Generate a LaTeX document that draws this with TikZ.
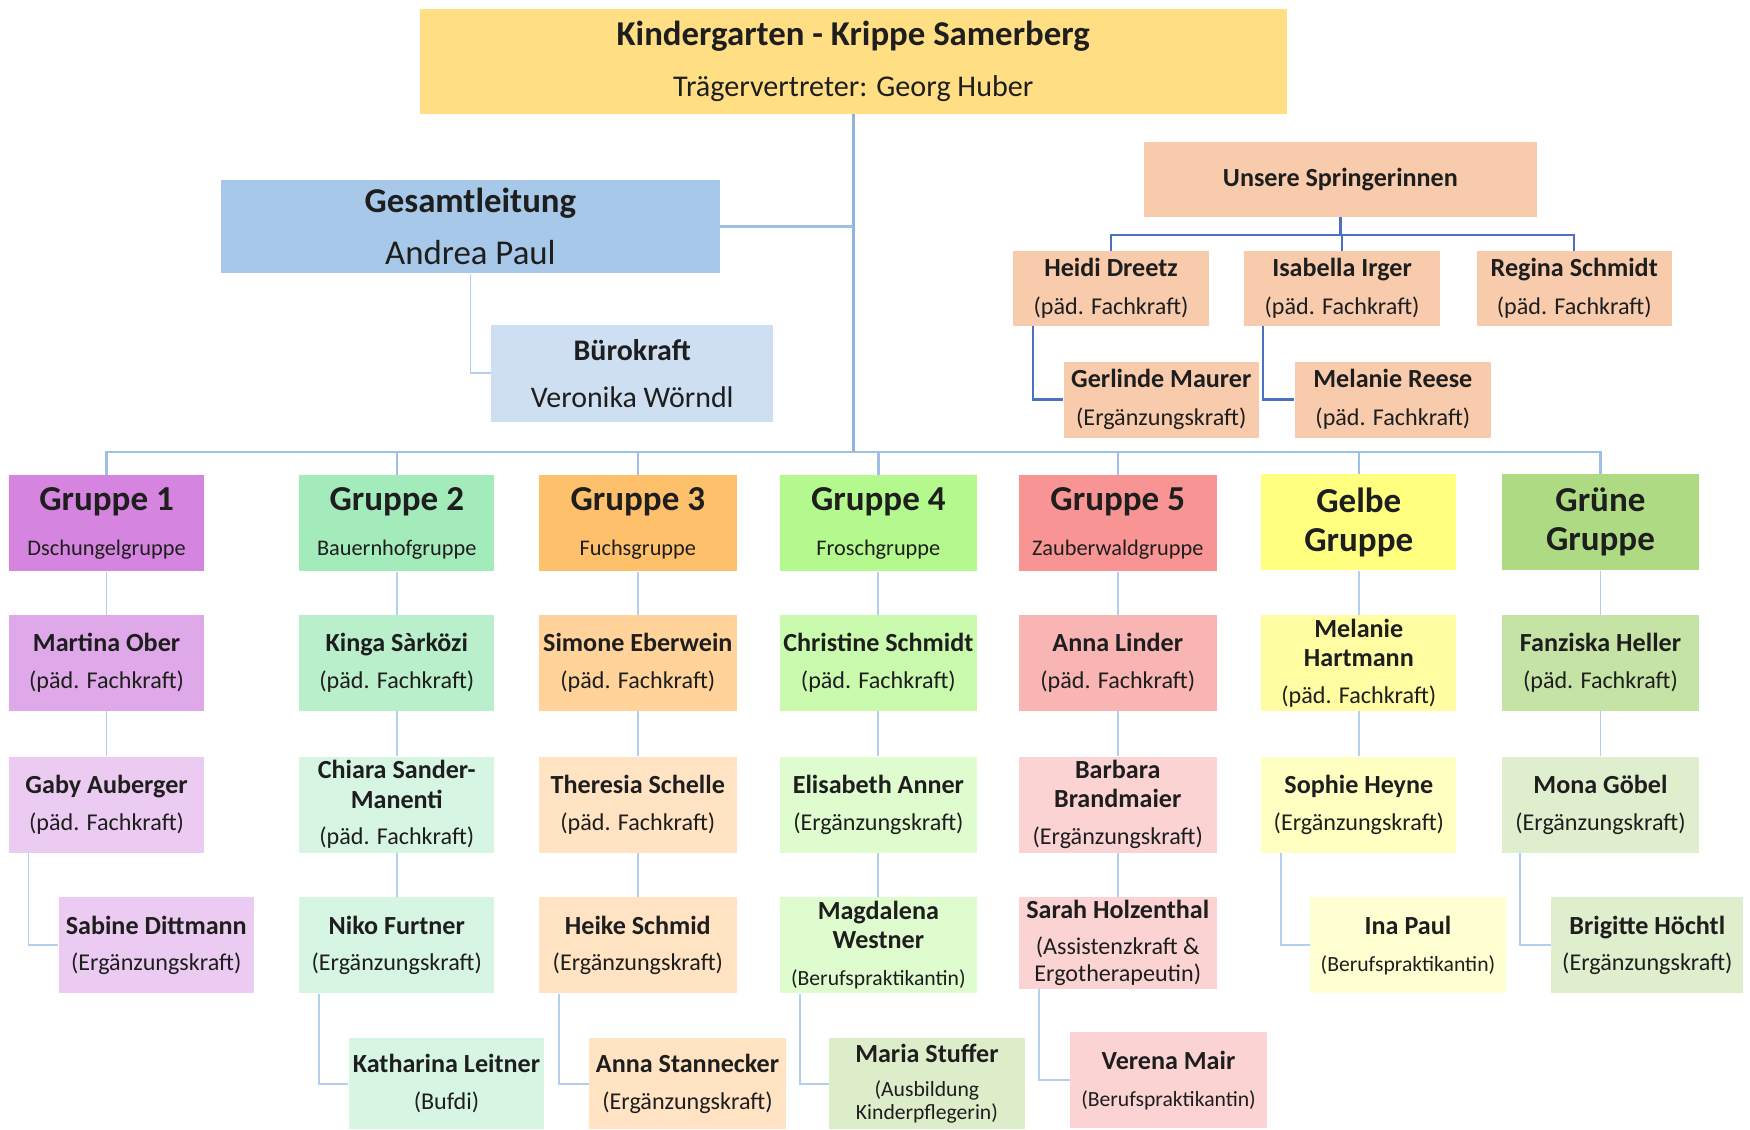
\documentclass[tikz,border=0pt]{standalone}
\usepackage{fontspec}
\setmainfont{Carlito}
\usetikzlibrary{calc}
\definecolor{txt}{HTML}{1E1E1E}
\definecolor{ctop}{HTML}{FFDE84}
\definecolor{cgl}{HTML}{A7C8E8}
\definecolor{cbk}{HTML}{CDDFF1}
\definecolor{csp}{HTML}{F8CBAD}
\definecolor{ga}{HTML}{D585E0}\definecolor{gb}{HTML}{DFA8E8}\definecolor{gc}{HTML}{ECCBF2}
\definecolor{ha}{HTML}{A4EBBC}\definecolor{hb}{HTML}{B9EFCB}\definecolor{hc}{HTML}{D7F5E3}
\definecolor{ia}{HTML}{FFC06C}\definecolor{ib}{HTML}{FFD399}\definecolor{ic}{HTML}{FFE3C2}
\definecolor{ja}{HTML}{B3F98E}\definecolor{jb}{HTML}{C9FAAE}\definecolor{jc}{HTML}{DEFCCD}\definecolor{jd}{HTML}{DDEDC9}
\definecolor{ka}{HTML}{F99494}\definecolor{kb}{HTML}{F9B4B4}\definecolor{kc}{HTML}{FCD3D3}
\definecolor{la}{HTML}{FFFF80}\definecolor{lb}{HTML}{FFFCA1}\definecolor{lc}{HTML}{FFFFC2}\definecolor{ld}{HTML}{FFFFD2}
\definecolor{ma}{HTML}{AFDA84}\definecolor{mb}{HTML}{C6E3A6}\definecolor{mc}{HTML}{DFEECC}
\definecolor{ltrunk}{HTML}{8DB3E2}
\definecolor{lbus}{HTML}{9EC0E6}
\definecolor{linner}{HTML}{B4CFEE}
\definecolor{lspr}{HTML}{4A72C0}
\newcommand\rl[1]{{\fontsize{10.8pt}{13pt}\selectfont\mdseries #1}}
\newcommand\sml[1]{{\fontsize{9.7pt}{12pt}\selectfont\mdseries #1}}
\newcommand\gsub[1]{{\fontsize{10pt}{12pt}\selectfont\mdseries #1}}
\tikzset{
  box/.style={rectangle, inner sep=0pt, minimum width=87.5pt, minimum height=43pt,
    align=center, text=txt, font=\fontsize{11.7pt}{13pt}\selectfont\bfseries},
  gbox/.style={box, font=\fontsize{15.7pt}{17.5pt}\selectfont\bfseries},
  trunk/.style={draw=ltrunk, line width=1.4pt},
  busline/.style={draw=lbus, line width=1.1pt},
  conn/.style={draw=linner, line width=0.8pt},
  sconn/.style={draw=lspr, line width=1.1pt},
}
\begin{document}
\begin{tikzpicture}[x=0.5pt,y=-0.5pt]
\useasboundingbox[fill=white] (0,0) rectangle (1568,1012);

% top
\node[box, fill=ctop, minimum width=388.5pt, minimum height=47pt, font=\fontsize{15.6pt}{18pt}\selectfont] (top) at (764.5,55)
  {\textbf{Kindergarten - Krippe Samerberg}\\[5pt]{\fontsize{13.5pt}{16pt}\selectfont Trägervertreter: Georg Huber}};
\node[box, fill=cgl, minimum width=223.5pt, minimum height=42pt, font=\fontsize{15.6pt}{18pt}\selectfont] (gl) at (421.5,203)
  {\textbf{Gesamtleitung}\\[5.5pt]Andrea Paul};
\node[box, fill=cbk, minimum width=126.5pt, minimum height=43.5pt, font=\fontsize{13.4pt}{16pt}\selectfont] (bk) at (566.5,334.5)
  {\textbf{Bürokraft}\\[5pt]Veronika Wörndl};

% Springerinnen
\node[box, fill=csp, minimum width=176pt, minimum height=33.5pt] (spr) at (1201,160.5) {Unsere Springerinnen};
\node[box, fill=csp, minimum height=33.5pt] (hd) at (995.5,258.5) {Heidi Dreetz\\[4pt]\rl{(päd. Fachkraft)}};
\node[box, fill=csp, minimum height=33.5pt] (ii) at (1202.5,258.5) {Isabella Irger\\[4pt]\rl{(päd. Fachkraft)}};
\node[box, fill=csp, minimum height=33.5pt] (rs) at (1410.5,258.5) {Regina Schmidt\\[4pt]\rl{(päd. Fachkraft)}};
\node[box, fill=csp, minimum height=34pt] (gm) at (1040.5,358) {Gerlinde Maurer\\[4pt]\rl{(Ergänzungskraft)}};
\node[box, fill=csp, minimum width=88pt, minimum height=34pt] (mr) at (1248,358) {Melanie Reese\\[4pt]\rl{(päd. Fachkraft)}};

% groups
\node[gbox, fill=ga] (g1) at (95.5,469) {Gruppe 1\\[2.5pt]\gsub{Dschungelgruppe}};
\node[gbox, fill=ha] (g2) at (355.5,469) {Gruppe 2\\[2.5pt]\gsub{Bauernhofgruppe}};
\node[gbox, fill=ia, minimum width=88.5pt] (g3) at (571.5,469) {Gruppe 3\\[2.5pt]\gsub{Fuchsgruppe}};
\node[gbox, fill=ja, minimum width=88pt] (g4) at (787,469) {Gruppe 4\\[2.5pt]\gsub{Froschgruppe}};
\node[gbox, fill=ka, minimum width=88.5pt] (g5) at (1001.5,469) {Gruppe 5\\[2.5pt]\gsub{Zauberwaldgruppe}};
\node[gbox, fill=la] (g6) at (1217.5,468) {Gelbe\\Gruppe};
\node[gbox, fill=ma, minimum width=88pt] (g7) at (1434,468) {Grüne\\Gruppe};

% column 1
\node[box, fill=gb] (a2) at (95.5,594) {Martina Ober\\[3.5pt]\rl{(päd. Fachkraft)}};
\node[box, fill=gc] (a3) at (95.5,721) {Gaby Auberger\\[3.5pt]\rl{(päd. Fachkraft)}};
\node[box, fill=gc] (a4) at (140,847) {Sabine Dittmann\\[3.5pt]\rl{(Ergänzungskraft)}};
% column 2
\node[box, fill=hb] (b2) at (355.5,594) {Kinga Sàrközi\\[3.5pt]\rl{(päd. Fachkraft)}};
\node[box, fill=hc] (b3) at (355.5,721) {Chiara Sander-\\Manenti\\[3.5pt]\rl{(päd. Fachkraft)}};
\node[box, fill=hc] (b4) at (355.5,847) {Niko Furtner\\[3.5pt]\rl{(Ergänzungskraft)}};
\node[box, fill=hc, minimum height=41pt] (b5) at (400,971) {Katharina Leitner\\[3.5pt]\rl{(Bufdi)}};
% column 3
\node[box, fill=ib, minimum width=88.5pt] (c2) at (571.5,594) {Simone Eberwein\\[3.5pt]\rl{(päd. Fachkraft)}};
\node[box, fill=ic, minimum width=88.5pt] (c3) at (571.5,721) {Theresia Schelle\\[3.5pt]\rl{(päd. Fachkraft)}};
\node[box, fill=ic, minimum width=88.5pt] (c4) at (571.5,847) {Heike Schmid\\[3.5pt]\rl{(Ergänzungskraft)}};
\node[box, fill=ic, minimum width=88pt, minimum height=41pt] (c5) at (616,971) {Anna Stannecker\\[3.5pt]\rl{(Ergänzungskraft)}};
% column 4
\node[box, fill=jb, minimum width=88pt] (d2) at (787,594) {Christine Schmidt\\[3.5pt]\rl{(päd. Fachkraft)}};
\node[box, fill=jc, minimum width=88pt] (d3) at (787,721) {Elisabeth Anner\\[3.5pt]\rl{(Ergänzungskraft)}};
\node[box, fill=jc, minimum width=88pt] (d4) at (787,847) {Magdalena\\Westner\\[3.5pt]\sml{(Berufspraktikantin)}};
\node[box, fill=jd, minimum height=41pt] (d5) at (830.5,971) {Maria Stuffer\\[2pt]\sml{(Ausbildung}\\[-2.5pt]\sml{Kinderpflegerin)}};
% column 5
\node[box, fill=kb, minimum width=88.5pt] (e2) at (1001.5,594) {Anna Linder\\[3.5pt]\rl{(päd. Fachkraft)}};
\node[box, fill=kc, minimum width=88.5pt] (e3) at (1001.5,721) {Barbara\\Brandmaier\\[3.5pt]\rl{(Ergänzungskraft)}};
\node[box, fill=kc, minimum width=88.5pt, minimum height=41pt] (e4) at (1001.5,845) {Sarah Holzenthal\\[3pt]\rl{(Assistenzkraft \&}\\[-1pt]\rl{Ergotherapeutin)}};
\node[box, fill=kc, minimum width=88pt] (e5) at (1047,968) {Verena Mair\\[3.5pt]\sml{(Berufspraktikantin)}};
% column 6
\node[box, fill=lb] (f2) at (1217.5,594) {Melanie\\Hartmann\\[3.5pt]\rl{(päd. Fachkraft)}};
\node[box, fill=lc] (f3) at (1217.5,721) {Sophie Heyne\\[3.5pt]\rl{(Ergänzungskraft)}};
\node[box, fill=ld] (f4) at (1261.5,847) {Ina Paul\\[3.5pt]\sml{(Berufspraktikantin)}};
% column 7
\node[box, fill=mb, minimum width=88pt] (h2) at (1434,594) {Fanziska Heller\\[3.5pt]\rl{(päd. Fachkraft)}};
\node[box, fill=mc, minimum width=88pt] (h3) at (1434,721) {Mona Göbel\\[3.5pt]\rl{(Ergänzungskraft)}};
\node[box, fill=mc, minimum width=86pt] (h4) at (1476,847) {Brigitte Höchtl\\[3.5pt]\rl{(Ergänzungskraft)}};

% main connectors
\coordinate (bus) at (764.5,405);
\draw[trunk] (top.south) -- (bus);
\draw[busline] (gl.east) -- (gl.east -| bus);
\draw[conn] (gl.south) |- (bk.west);
\foreach \g in {g1,g2,g3,g4,g5,g6,g7} \draw[busline] (\g.north) |- (bus);

% springer connectors
\coordinate (sj) at ($(spr.south)+(0,16)$);
\draw[sconn] (spr.south) -- (sj);
\foreach \s in {hd,ii,rs} \draw[sconn] (\s.north) |- (sj);
\draw[sconn] ($(hd.south west)+(18,0)$) |- (gm.west);
\draw[sconn] ($(ii.south west)+(17,0)$) |- (mr.west);

% group connectors
\draw[conn] (g1) -- (a2); \draw[conn] (a2) -- (a3);
\draw[conn] ($(a3.south west)+(18,0)$) |- (a4.west);
\draw[conn] (g2) -- (b2); \draw[conn] (b2) -- (b3); \draw[conn] (b3) -- (b4);
\draw[conn] ($(b4.south west)+(18,0)$) |- (b5.west);
\draw[conn] (g3) -- (c2); \draw[conn] (c2) -- (c3); \draw[conn] (c3) -- (c4);
\draw[conn] ($(c4.south west)+(18,0)$) |- (c5.west);
\draw[conn] (g4) -- (d2); \draw[conn] (d2) -- (d3); \draw[conn] (d3) -- (d4);
\draw[conn] ($(d4.south west)+(18,0)$) |- (d5.west);
\draw[conn] (g5) -- (e2); \draw[conn] (e2) -- (e3); \draw[conn] (e3) -- (e4);
\draw[conn] ($(e4.south west)+(18,0)$) |- (e5.west);
\draw[conn] (g6) -- (f2); \draw[conn] (f2) -- (f3);
\draw[conn] ($(f3.south west)+(18,0)$) |- (f4.west);
\draw[conn] (g7) -- (h2); \draw[conn] (h2) -- (h3);
\draw[conn] ($(h3.south west)+(16,0)$) |- (h4.west);
\end{tikzpicture}
\end{document}
